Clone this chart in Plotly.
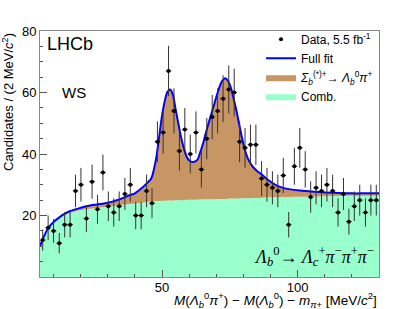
import numpy as np
import plotly.graph_objects as go

# Data: bin centres (MeV/c^2) and candidate counts
bin_centres = [6.0, 8.0, 10.0, 12.1, 14.1, 16.1, 18.1, 20.1, 22.1, 24.2, 26.2, 28.2, 30.2,
               32.2, 34.2, 36.3, 38.3, 40.3, 42.3, 44.3, 46.3, 48.3, 50.4, 52.4, 54.4, 56.4,
               58.4, 60.4, 62.5, 64.5, 66.5, 68.5, 70.5, 72.5, 74.6, 76.6, 78.6, 80.6, 82.6,
               84.6, 86.7, 88.7, 90.7, 92.7, 94.7, 96.7, 98.8, 100.8, 102.8, 104.8, 106.8,
               108.8, 110.8, 112.9, 114.9, 116.9, 118.9, 120.9, 122.9, 125.0, 127.0, 129.0]
counts = [12, 16, 15, 11, 17, 17, 28, 30, 19, 31, 22, 34, 23,
          21, 23, 27, 30, 20, 20, 28, 24, 44, 47, 67, 54, 41,
          48, 40, 47, 35, 45, 52, 54, 58, 61, 60, 44, 42, 43,
          43, 32, 30, 29, 28, 33, 17, 36, 42, 35, 26, 29,
          28, 30, 28, 21, 27, 18, 23, 25, 21, 25, 25]

# Fit curves
curve_x = [5, 6, 7, 8, 10, 12, 14, 16, 18, 20, 23, 26, 29, 32, 35, 38, 40, 43, 45, 46,
           47, 48, 49, 50, 51, 52, 53, 54, 55, 56, 57, 58, 59, 60, 61.5, 63, 64, 65, 66,
           67, 68, 69, 70, 71, 72, 73.4, 74.5, 75.5, 76.5, 77.5, 78.5, 79.5, 80.5, 81.5,
           83, 85, 87, 89, 92, 95, 100, 105, 110, 115, 120, 125, 130]
full_fit = [10, 12.3, 14.2, 15.9, 17.9, 19.3, 20.5, 21.4, 22.0, 22.5, 23.2, 23.6, 24.0, 24.6,
            25.5, 26.6, 27.2, 29.3, 31.0, 32.0, 35.0, 39.5, 46.0, 52.5, 57.2, 60.2, 61.0,
            59.3, 54.5, 50.0, 45.5, 42.0, 39.3, 37.9, 37.4, 38.1, 40.4, 43.0, 46.3, 49.5,
            52.5, 55.5, 58.5, 61.3, 63.5, 64.6, 63.5, 61.2, 57.6, 53.8, 49.4, 45.2, 41.5,
            38.8, 36.4, 34.5, 33.2, 31.6, 29.9, 28.9, 28.2, 27.8, 27.5, 27.3, 27.2, 27.2, 27.2]
comb = [10, 12.3, 14.2, 15.8, 17.8, 19.1, 20.1, 20.8, 21.3, 21.7, 22.1, 22.4, 22.8, 23.1,
        23.4, 23.7, 23.9, 24.2, 24.5, 24.6, 24.6, 24.7, 24.7, 24.8, 24.8, 24.9, 24.9,
        24.9, 25.0, 25.0, 25.0, 25.0, 25.1, 25.1, 25.1, 25.2, 25.2, 25.2, 25.3, 25.3,
        25.3, 25.3, 25.4, 25.4, 25.4, 25.4, 25.5, 25.5, 25.5, 25.5, 25.6, 25.6, 25.6,
        25.6, 25.7, 25.7, 25.8, 25.9, 25.9, 26.0, 26.1, 26.2, 26.3, 26.35, 26.4, 26.45, 26.5]

x_ticks = [50, 100]
y_ticks = [20, 40, 60, 80]

GREEN = "#99FFCC"
BROWN = "#C89664"
BLUE = "#0000FF"
FONT = "Liberation Sans, Arial, sans-serif"

fig = go.Figure()

fig.add_trace(go.Scatter(
    x=curve_x, y=comb, mode="lines", line=dict(width=0, color=GREEN, shape="spline"),
    fill="tozeroy", fillcolor=GREEN, name="Comb.", legendrank=4))
fig.add_trace(go.Scatter(
    x=curve_x, y=full_fit, mode="lines", line=dict(width=0, color=BROWN, shape="spline"),
    fill="tonexty", fillcolor=BROWN,
    name="<i>Σ</i><sub><i>b</i></sub><sup>(*)+</sup>→ <i>Λ</i><sub><i>b</i></sub><sup>0</sup><i>π</i><sup>+</sup>",
    legendrank=3))
fig.add_trace(go.Scatter(
    x=curve_x, y=full_fit, mode="lines", line=dict(width=2, color=BLUE, shape="spline"),
    name="Full fit", legendrank=2))
fig.add_trace(go.Scatter(
    x=bin_centres, y=counts, mode="markers",
    marker=dict(color="black", size=4, symbol="circle"),
    error_y=dict(type="data", array=np.sqrt(counts), color="#333333", thickness=1, width=0),
    error_x=dict(type="constant", value=1.0, color="black", thickness=1, width=0),
    name="Data, 5.5 fb<sup>-1</sup>", legendrank=1))

fig.update_layout(
    width=399, height=309,
    margin=dict(l=40, r=20, t=31, b=31.5),
    paper_bgcolor="white", plot_bgcolor="white",
    font=dict(family=FONT, size=13, color="black"),
    showlegend=True,
    legend=dict(x=0.652, y=1.025, xanchor="left", yanchor="top",
                bgcolor="rgba(0,0,0,0)", font=dict(size=12),
                itemwidth=30, tracegroupgap=0, traceorder="normal"),
)

fig.update_xaxes(
    range=[5, 130], tickmode="array", tickvals=x_ticks, ticktext=[str(v) for v in x_ticks],
    ticks="inside", ticklen=7, tickcolor="#555555", showline=True, linecolor="#888888",
    linewidth=1, mirror=True, showgrid=False, zeroline=False, ticklabelstandoff=-2,
    minor=dict(ticks="inside", tick0=0, dtick=10, ticklen=3, tickcolor="#555555"),
    tickfont=dict(size=13))
fig.update_yaxes(
    range=[0, 80], tickmode="array", tickvals=y_ticks, ticktext=[str(v) for v in y_ticks],
    ticks="inside", ticklen=7, tickcolor="#555555", showline=True, linecolor="#888888",
    linewidth=1, mirror=True, showgrid=False, zeroline=False,
    minor=dict(ticks="inside", tick0=0, dtick=5, ticklen=3, tickcolor="#555555"),
    tickfont=dict(size=13))

fig.add_annotation(text="LHCb", xref="paper", yref="paper", x=0.015, y=0.947,
                   xanchor="left", yanchor="middle", showarrow=False,
                   font=dict(size=18, family=FONT))
fig.add_annotation(text="WS", xref="paper", yref="paper", x=0.058, y=0.749,
                   xanchor="left", yanchor="middle", showarrow=False,
                   font=dict(size=15, family=FONT))
fig.add_annotation(
    text="<i>Λ</i><sub><i>b</i></sub><sup>0</sup>→ <i>Λ</i><sub><i>c</i></sub><sup>+</sup><i>π</i><sup>−</sup><i>π</i><sup>+</sup><i>π</i><sup>−</sup>",
    xref="paper", yref="paper", x=0.99, y=0.083, xanchor="right", yanchor="middle",
    showarrow=False, font=dict(size=18, family="Liberation Serif, Times New Roman, serif"))
fig.add_annotation(
    text="<i>M</i>(<i>Λ</i><sub><i>b</i></sub><sup>0</sup><i>π</i><sup>+</sup>) − <i>M</i>(<i>Λ</i><sub><i>b</i></sub><sup>0</sup>) − <i>m</i><sub><i>π</i>+</sub> [MeV/<i>c</i><sup>2</sup>]",
    xref="paper", yref="paper", x=1.0, y=0, yshift=-35, xanchor="right", yanchor="bottom",
    showarrow=False, font=dict(size=13.5, family=FONT))
fig.add_annotation(
    text="Candidates / (2 MeV/<i>c</i><sup>2</sup>)", textangle=-90,
    xref="paper", yref="paper", x=0, y=1.0, xshift=-32, xanchor="center", yanchor="top",
    showarrow=False, font=dict(size=13, family=FONT))

fig.write_html("out.html", post_script="document.body.style.margin='0px';",
               config={"displayModeBar": False})
